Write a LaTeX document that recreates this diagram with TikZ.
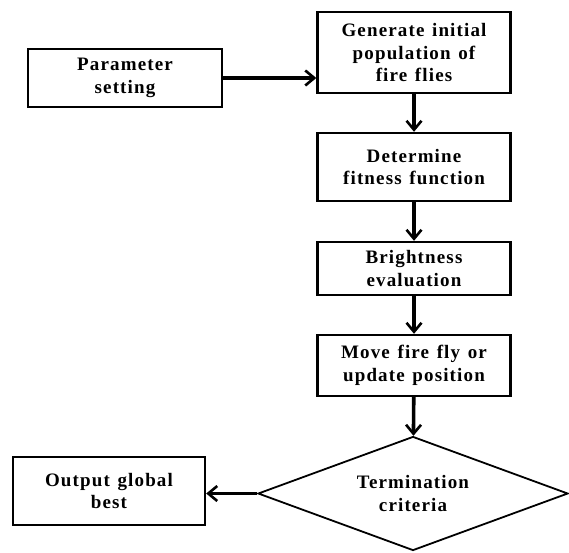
\documentclass[tikz,border=0pt]{standalone}
\usepackage{fontspec}
\setmainfont{Liberation Serif}
\newfontfamily\boxfont{Liberation Serif}[LetterSpace=6,WordSpace=1.3]
\usetikzlibrary{shapes.geometric,arrows.meta}

\begin{document}
\begin{tikzpicture}[x=1pt,y=-1pt,
  stepbox/.style={rectangle,draw,line width=2.4pt,minimum width=193pt,align=center,inner sep=2pt,
    font=\boxfont\fontsize{19}{22.5}\selectfont\bfseries},
  decision/.style={diamond,draw,line width=1.8pt,aspect=2.7,minimum width=310pt,minimum height=114pt,
    inner sep=0pt,align=center,font=\boxfont\fontsize{19}{22.5}\selectfont\bfseries},
  flow/.style={line width=3.6pt,-{Straight Barb[length=9pt,width=15pt,line width=2.6pt]}}]
\useasboundingbox (0,0) rectangle (569,552);

\path (125,78) node[stepbox,minimum width=194pt,minimum height=58pt] (param) {Parameter\\setting};
\path (414,52.5) node[stepbox,minimum height=81pt] (gen) {Generate initial\\population of\\fire flies};
\draw[flow] (param.east) -- (param.east -| gen.west);

\path (414,167) node[stepbox,minimum height=68pt] (fit) {Determine\\fitness function};
\draw[flow] (gen) -- (fit);

\path (414,268.5) node[stepbox,minimum height=53pt] (bright) {Brightness\\evaluation};
\draw[flow] (fit) -- (bright);

\path (414,365.5) node[stepbox,minimum height=61pt] (move) {Move fire fly or\\update position};
\draw[flow] (bright) -- (move);

\path (413,493.5) node[decision] (term) {Termination\\criteria};
\draw[flow] (move) -- (term);

\path (109,491) node[stepbox,minimum width=192pt,minimum height=68pt] (out) {Output global\\best};
\draw[flow] (term.west) -- (term.west -| out.east);
\end{tikzpicture}
\end{document}
